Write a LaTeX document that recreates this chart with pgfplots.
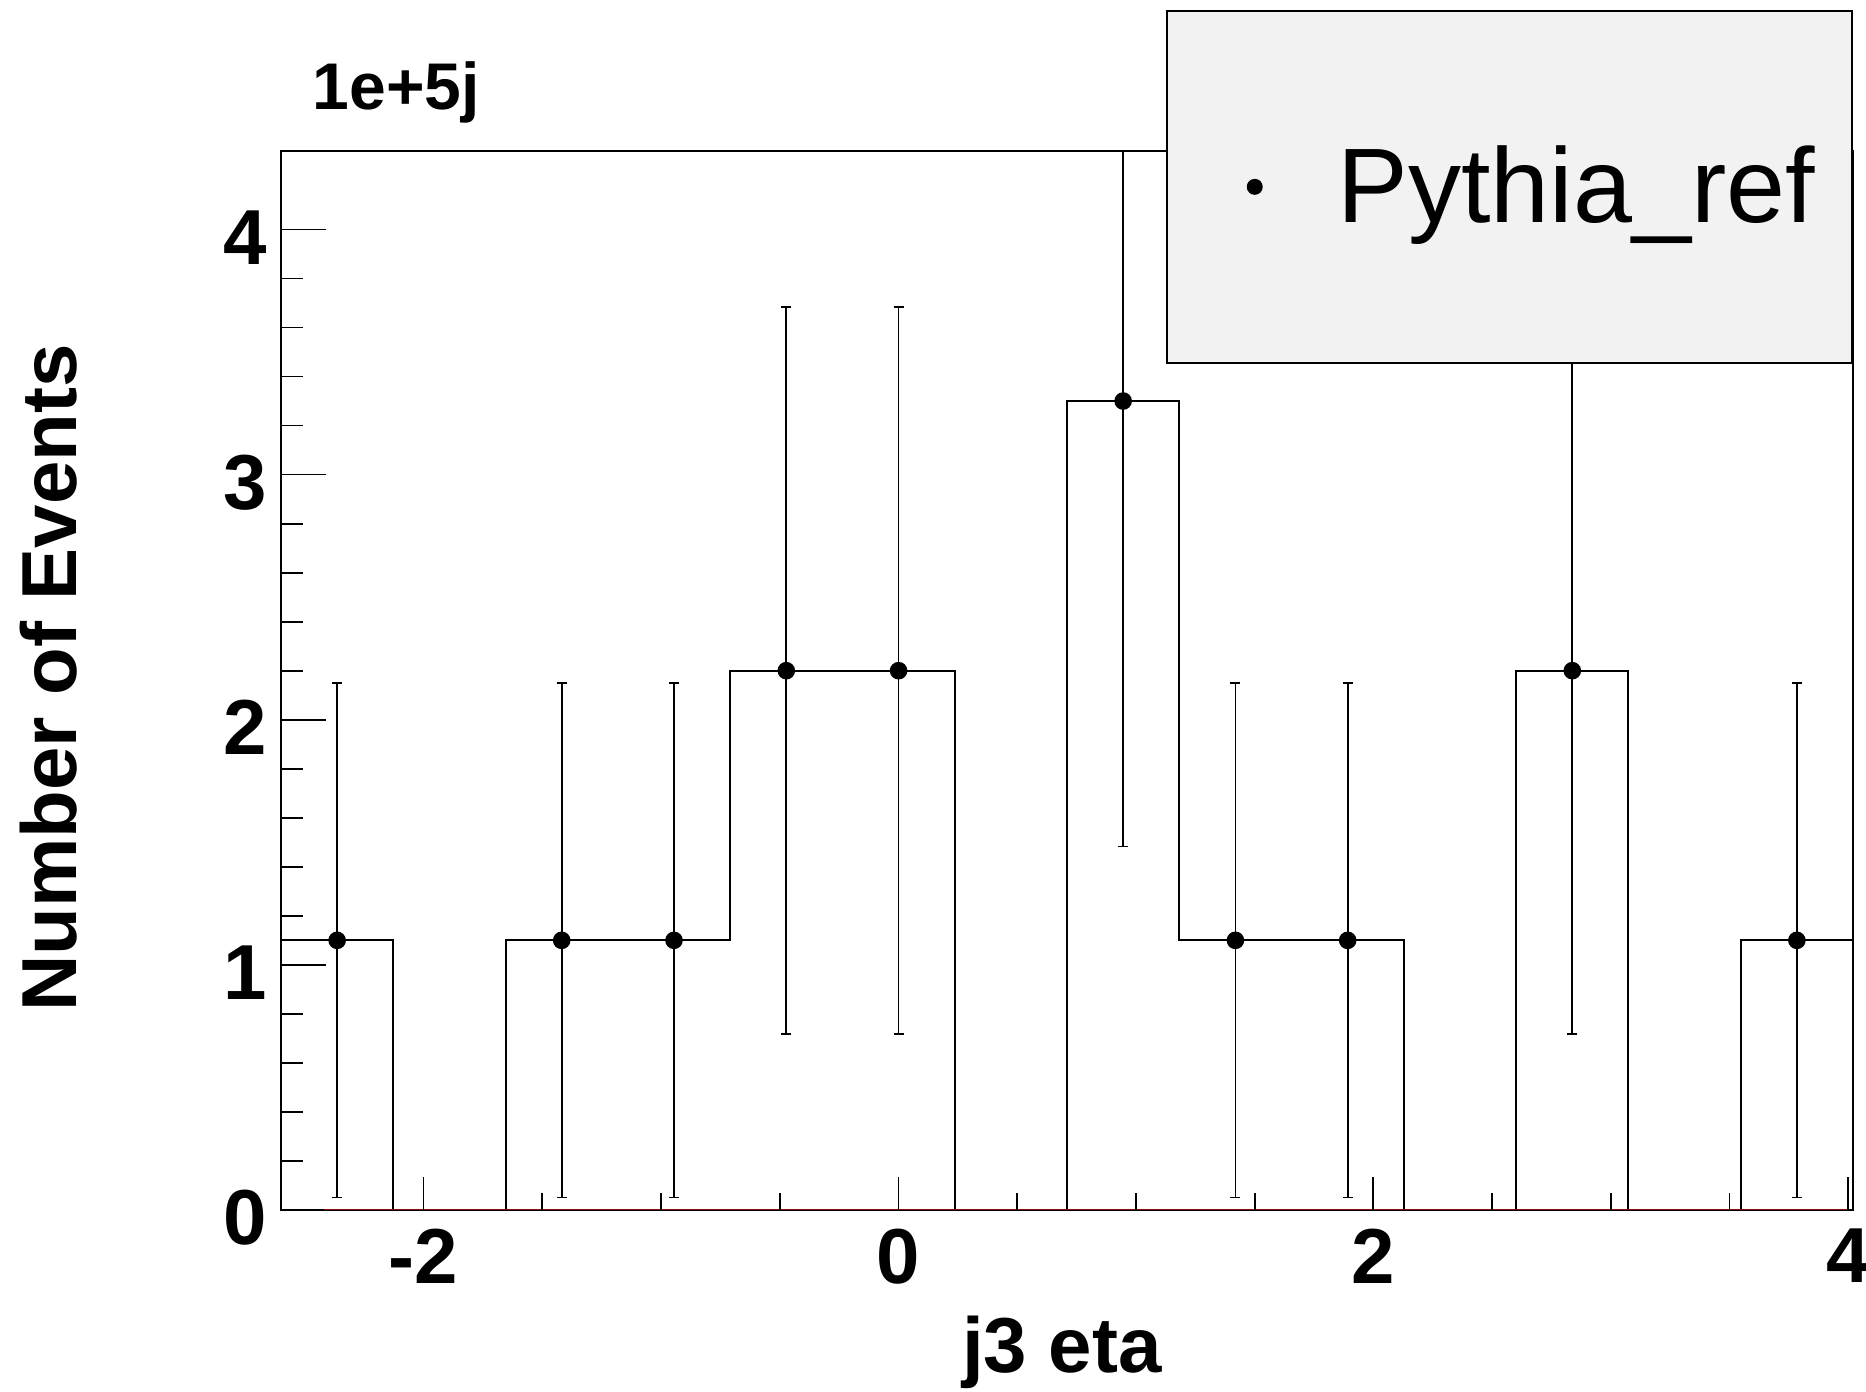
\documentclass[border=0pt]{standalone}
\usepackage{fontspec}
\setmainfont{Liberation Sans}
\usepackage{pgfplots}
\pgfplotsset{compat=1.18}
\definecolor{legendgray}{HTML}{F2F2F2}
\definecolor{zeroline}{HTML}{8B1010}
\begin{document}
\begin{tikzpicture}
\path[use as bounding box] (0,0) rectangle (466.5pt,348pt);
\begin{axis}[
  at={(70.25pt,45.5pt)}, anchor=south west,
  scale only axis, width=393pt, height=264.75pt,
  xmin=-2.6, xmax=4.02, ymin=0, ymax=4.32,
  xtick=\empty,
  ytick={0,1,2,3,4}, minor y tick num=4,
  ytick pos=left, tick align=inside,
  major tick length=11.15pt, minor tick length=5.5pt,
  tick style={black, line width=0.45pt},
  axis line style={black, line width=0.45pt},
  /pgf/number format/assume math mode=true,
  yticklabel style={font=\bfseries\fontsize{19.5}{20}\selectfont, anchor=east, inner sep=0pt, xshift=-3.25pt, yshift=-2pt},
  ylabel={Number of Events},
  ylabel style={font=\bfseries\fontsize{19.5}{20}\selectfont, at={(axis description cs:-0.1298,0.5024)}, anchor=base, inner sep=0pt},
  legend style={at={(axis description cs:1,1.1331)}, anchor=north east, draw=black, line width=0.5pt, fill=legendgray,
    inner xsep=9.25pt, inner ysep=33.6pt, column sep=0pt,
    nodes={inner sep=0pt},
    font=\fontsize{26.5}{30}\selectfont},
  legend cell align=left,
]
\addplot[const plot, black, line width=0.5pt, forget plot] coordinates {
  (-2.6,0) (-2.6,1.1) (-2.1271,0) (-1.6543,1.1) (-1.1814,1.1) (-0.7086,2.2) (-0.2357,2.2)
  (0.2371,0) (0.7100,3.3) (1.1829,1.1) (1.6557,1.1) (2.1286,0) (2.6014,2.2) (3.0743,0)
  (3.5471,1.1) (4.02,1.1) (4.02,0)
};
\addplot[zeroline, line width=0.6pt, forget plot] coordinates {(-2.42,0) (4.0,0)};
\addplot[only marks, mark=*, mark size=2pt, black,
  legend image code/.code={\draw[legendgray, line width=0.1pt, fill=none] (0pt,0pt) -- (12.75pt,0pt); \fill[black,draw=none] (12.75pt,0pt) circle (2pt); \path[draw=none] (33.5pt,0pt);},
  error bars/.cd, y dir=both, y explicit, error mark=|,
  error mark options={black, mark size=1.25pt, line width=0.45pt},
  error bar style={black, line width=0.45pt}]
coordinates {
  (-2.3636,1.1) +- (0,1.049)
  (-1.4179,1.1) +- (0,1.049)
  (-0.9450,1.1) +- (0,1.049)
  (-0.4721,2.2) +- (0,1.483)
  (0.0007,2.2) +- (0,1.483)
  (0.9464,3.3) +- (0,1.817)
  (1.4193,1.1) +- (0,1.049)
  (1.8921,1.1) +- (0,1.049)
  (2.8379,2.2) +- (0,1.483)
  (3.7836,1.1) +- (0,1.049)
};
\addlegendentry{Pythia\_ref}
\end{axis}
\begin{axis}[
  at={(70.25pt,45.5pt)}, anchor=south west,
  scale only axis, width=393pt, height=264.75pt,
  xmin=-2.6, xmax=4.02, ymin=0, ymax=4.32,
  ytick=\empty,
  xtick={-2,0,2,4}, minor x tick num=3,
  xtick pos=bottom, tick align=inside,
  major tick length=8.25pt, minor tick length=4.25pt,
  tick style={black, line width=0.45pt},
  axis line style={draw=none},
  /pgf/number format/assume math mode=true,
  xticklabel style={font=\bfseries\fontsize{19.5}{20}\selectfont, anchor=north, inner sep=0pt, yshift=-4.5pt},
  xlabel={j3 eta},
  xlabel style={font=\bfseries\fontsize{19.5}{20}\selectfont, at={(axis description cs:0.4968,-0.1539)}, anchor=base, inner sep=0pt},
]
\end{axis}
\node[anchor=base west, inner sep=0pt, font=\bfseries\fontsize{16.5}{18}\selectfont] at (78pt,320.5pt) {1e+5j};
\end{tikzpicture}
\end{document}
